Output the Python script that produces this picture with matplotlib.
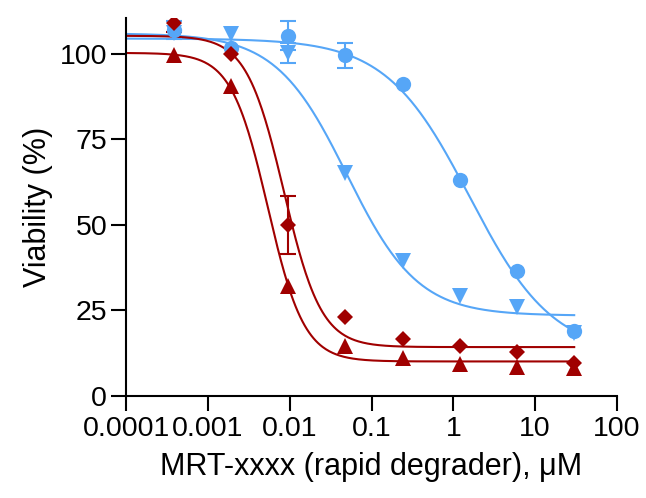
import numpy as np
import matplotlib.pyplot as plt
from matplotlib.ticker import FixedLocator, FixedFormatter, NullLocator

plt.rcParams['font.family'] = ['Liberation Sans', 'DejaVu Sans']

# 5-fold dilution series (uM)
conc = [0.000384, 0.00192, 0.0096, 0.048, 0.24, 1.2, 6.0, 30.0]

# viability (%) and error for each series
blue_circ = [107.0, 101.6, 105.3, 99.6, 91.3, 63.0, 36.6, 18.9]
blue_circ_err = [2.6, 0, 4.3, 3.6, 0, 0, 0, 0]
blue_tri = [106.0, 105.9, 100.2, 65.1, 39.5, 29.3, 25.9, 18.5]
blue_tri_err = [0, 0, 3.0, 0, 0, 0, 0, 0]
red_diam = [108.9, 100.1, 50.0, 23.0, 16.6, 14.6, 13.0, 9.6]
red_diam_err = [2.5, 0, 8.4, 0, 0, 0, 0, 0]
red_tri = [99.8, 90.5, 32.2, 14.7, 11.0, 9.5, 8.4, 8.1]
red_tri_err = [0, 0, 0, 0, 0, 0, 0, 0]

# 4PL fit parameters: top, bottom, IC50, hill
fit_blue_circ = [104.5, 12.0, 1.58, 0.85]
fit_blue_tri = [106.0, 23.5, 0.05, 1.0]
fit_red_diam = [105.3, 14.3, 0.0085, 1.9]
fit_red_tri = [100.3, 10.1, 0.0054, 1.95]

xticks = [1e-4, 1e-3, 1e-2, 1e-1, 1, 10, 100]
xticklabels = ['0.0001', '0.001', '0.01', '0.1', '1', '10', '100']
yticks = [0, 25, 50, 75, 100]

BLUE = '#56a6f7'
RED = '#a00000'


def four_pl(x, top, bottom, ic50, hill):
    return bottom + (top - bottom) / (1 + (x / ic50) ** hill)


fig = plt.figure(figsize=(6.46, 4.98), dpi=100)
ax = fig.add_axes([126 / 646, 1 - 396 / 498, 491 / 646, 378 / 498])

xfit = np.logspace(-4, np.log10(30), 400)
series = [
    (blue_circ, blue_circ_err, fit_blue_circ, BLUE, 'o', 11),
    (blue_tri, blue_tri_err, fit_blue_tri, BLUE, 'v', 11),
    (red_tri, red_tri_err, fit_red_tri, RED, '^', 11),
    (red_diam, red_diam_err, fit_red_diam, RED, 'D', 8),
]
for y, err, fit, color, marker, ms in series:
    ax.plot(xfit, four_pl(xfit, *fit), color=color, lw=1.5, zorder=2)
    yerr = [e if e > 0 else np.nan for e in err]
    ax.errorbar(conc, y, yerr=yerr, fmt='none', ecolor=color, elinewidth=1.5,
                capsize=5.5, capthick=1.5, zorder=3)
    ax.plot(conc, y, linestyle='none', marker=marker, ms=ms, color=color,
            markeredgewidth=0, zorder=4)

ax.set_xscale('log')
ax.set_xlim(1e-4, 100)
ax.set_ylim(0, 110.5)
ax.xaxis.set_major_locator(FixedLocator(xticks))
ax.xaxis.set_major_formatter(FixedFormatter(xticklabels))
ax.xaxis.set_minor_locator(NullLocator())
ax.set_yticks(yticks)

for side in ['top', 'right']:
    ax.spines[side].set_visible(False)
for side in ['left', 'bottom']:
    ax.spines[side].set_linewidth(1.5)
ax.tick_params(axis='both', length=10.5, width=1.5, labelsize=20.5)
ax.tick_params(axis='x', pad=4)
ax.tick_params(axis='y', pad=3)

ax.set_xlabel('MRT-xxxx (rapid degrader), μM', fontsize=22, labelpad=7)
ax.set_ylabel('Viability (%)', fontsize=22, labelpad=5)

fig.savefig('out.png', dpi=100)
